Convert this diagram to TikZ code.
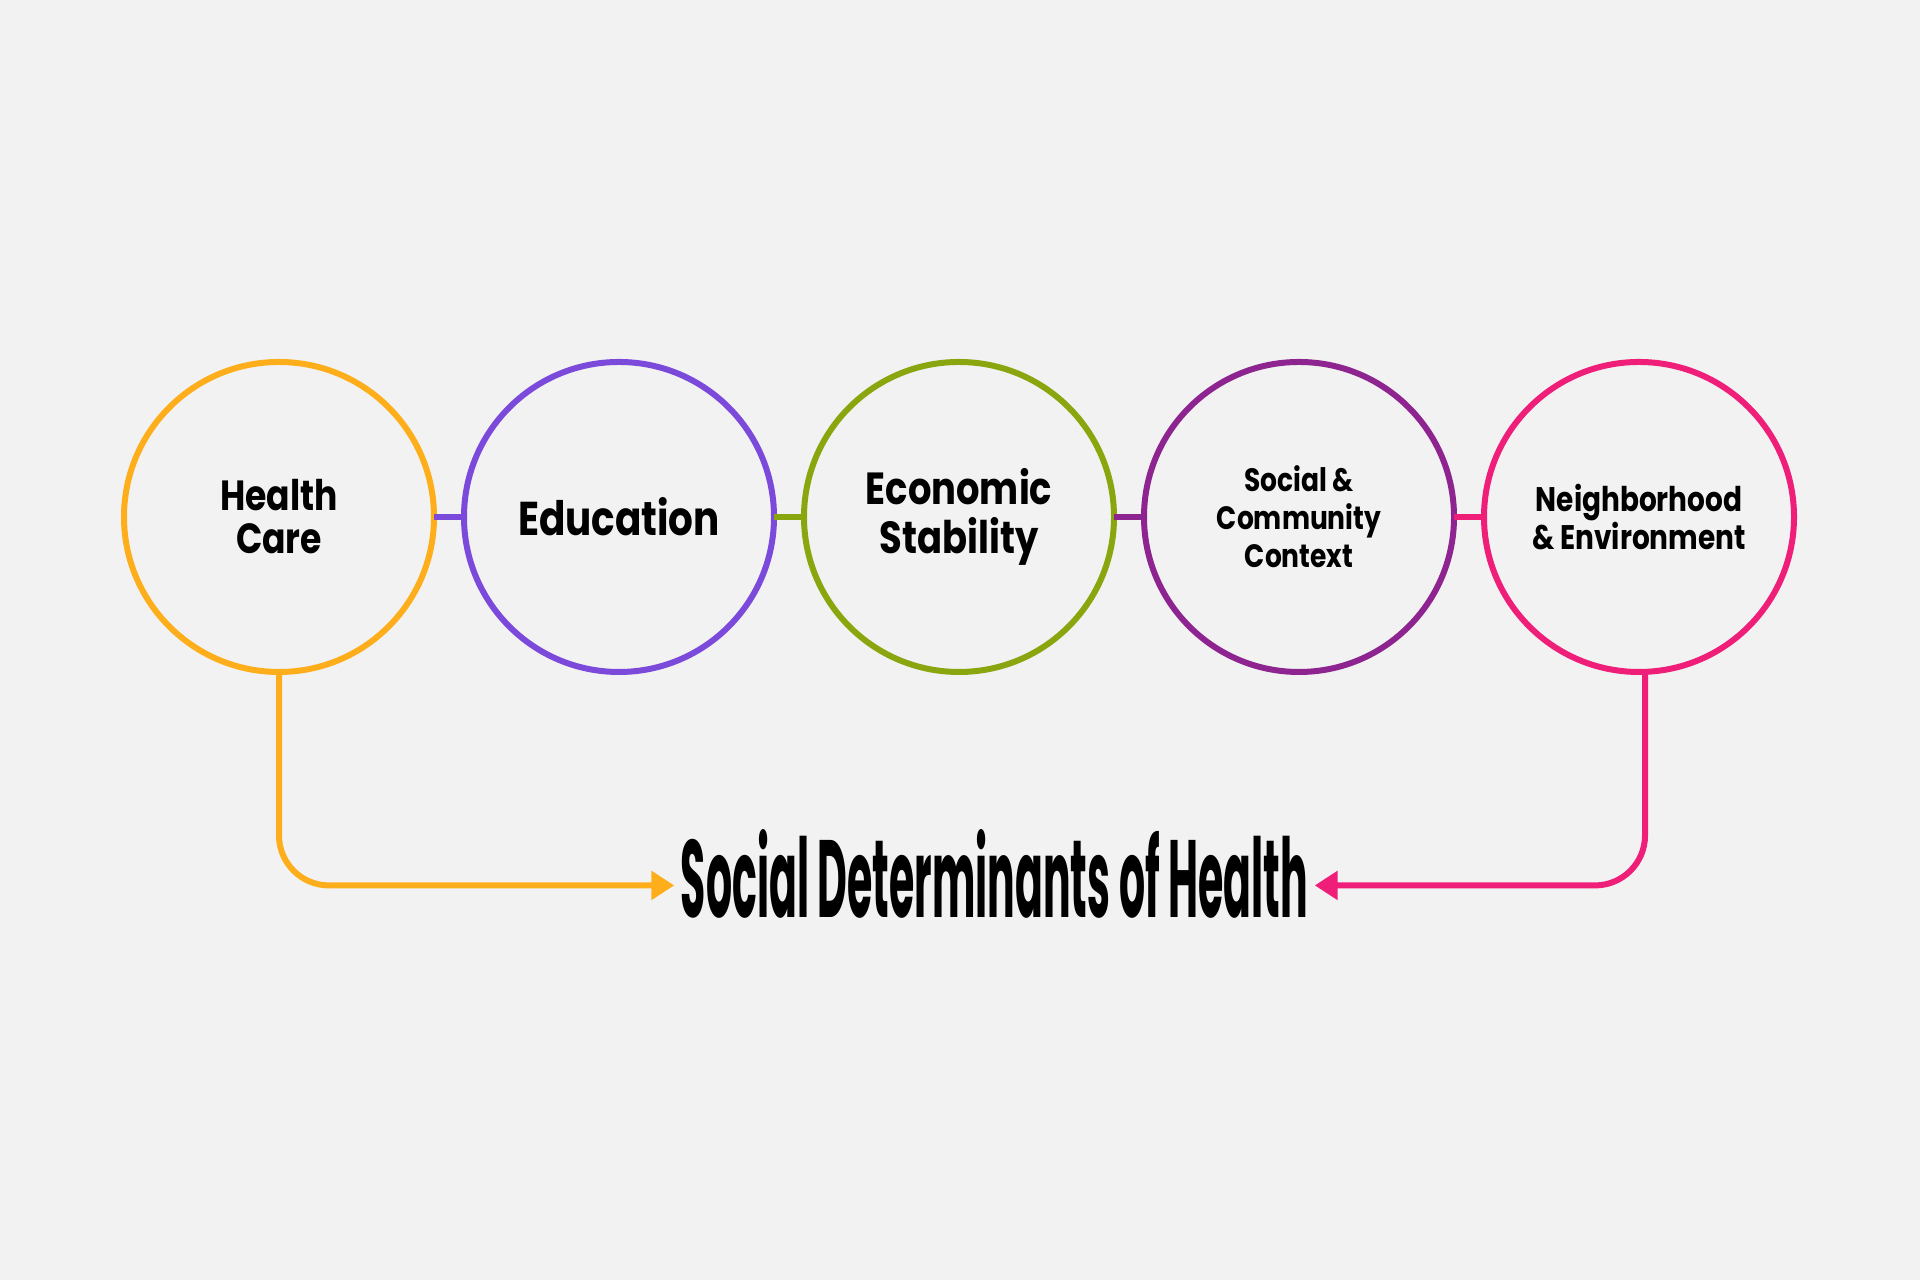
\documentclass[tikz,border=0pt]{standalone}
\usepackage{fontspec}
\setmainfont{Poppins}[FakeStretch=0.82]
\usepackage{graphicx}
\usetikzlibrary{positioning,arrows.meta}
\definecolor{bgcol}{HTML}{F2F2F2}
\definecolor{hccol}{HTML}{FDAE1A}
\definecolor{educol}{HTML}{7B4ADB}
\definecolor{ecocol}{HTML}{8AA60E}
\definecolor{soccol}{HTML}{8E2490}
\definecolor{neicol}{HTML}{EE1E79}
\begin{document}
\begin{tikzpicture}[
	ring/.style={circle,draw,line width=0.06cm,minimum size=3.1cm,inner sep=0pt,outer sep=0pt,align=center,font=\bfseries},
	link/.style={line width=0.06cm},
	feed/.style={line width=0.06cm,rounded corners=0.5cm,-{Triangle[length=0.23cm,width=0.28cm]}}]
	\fill[bgcol] (0,0) rectangle (19.2,12.8);
	\useasboundingbox (0,0) rectangle (19.2,12.8);
	
	% the five determinants
	\node[ring,draw=hccol,font=\bfseries\fontsize{12}{12.2}\selectfont] (hc) at (2.79,7.63) {Health\\Care};
	\node[ring,draw=educol,font=\bfseries\fontsize{13.5}{14}\selectfont,right=0.3cm of hc] (edu) {Education};
	\node[ring,draw=ecocol,font=\bfseries\fontsize{12.8}{14}\selectfont,right=0.3cm of edu] (eco) {Economic\\Stability};
	\node[ring,draw=soccol,font=\bfseries\fontsize{9.2}{10.8}\selectfont,right=0.3cm of eco] (soc) {Social \&\\Community\\Context};
	\node[ring,draw=neicol,font=\bfseries\fontsize{9.7}{10.8}\selectfont,right=0.3cm of soc] (nei) {Neighborhood\\\& Environment};
	
	\draw[link,educol] (hc) -- (edu);
	\draw[link,ecocol] (edu) -- (eco);
	\draw[link,soccol] (eco) -- (soc);
	\draw[link,neicol] (soc) -- (nei);
	
	% title
	\node[inner sep=0pt,inner xsep=0.06cm,anchor=base] (title) at (9.945,3.62)
		{\resizebox{6.27cm}{0.88cm}{\bfseries Social Determinants of Health}};
	\coordinate (tl) at ([yshift=-0.11cm]title.west);
	\coordinate (tr) at ([yshift=-0.11cm]title.east);
	
	\draw[feed,hccol] (hc.south) |- (tl);
	\draw[feed,neicol] ([xshift=0.06cm]nei.south) |- (tr);
\end{tikzpicture}
\end{document}
